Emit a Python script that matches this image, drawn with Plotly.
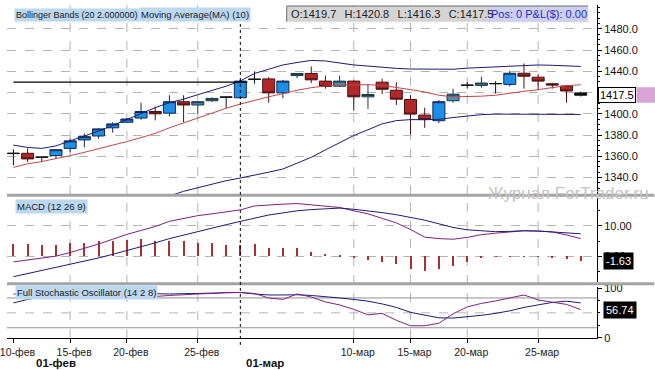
import plotly.graph_objects as go

# ---------------- DATA ----------------
DATES = ["2011-02-10","2011-02-11","2011-02-13","2011-02-14","2011-02-15","2011-02-16","2011-02-17","2011-02-18",
         "2011-02-20","2011-02-21","2011-02-22","2011-02-23","2011-02-24","2011-02-25","2011-02-27","2011-02-28",
         "2011-03-01","2011-03-02","2011-03-03","2011-03-04","2011-03-06","2011-03-07","2011-03-08","2011-03-09",
         "2011-03-10","2011-03-11","2011-03-13","2011-03-14","2011-03-15","2011-03-16","2011-03-17","2011-03-18",
         "2011-03-20","2011-03-21","2011-03-22","2011-03-23","2011-03-24","2011-03-25","2011-03-27","2011-03-28",
         "2011-03-29"]

OPEN  = [1362.5,1362.8,1359.0,1360.6,1367.4,1375.4,1379.1,1386.8,1392.0,1396.0,1402.2,1400.6,1411.4,1408.3,1412.3,1415.6,
         1415.1,1432.4,1432.9,1419.7,1436.0,1438.0,1430.8,1426.0,1430.8,1416.0,1429.8,1422.2,1413.5,1398.8,1393.5,1412.3,
         1426.8,1426.8,1428.3,1427.7,1438.2,1434.5,1428.3,1426.2,1419.7]
HIGH  = [1366.5,1367.4,1360.0,1366.8,1376.6,1381.5,1386.4,1392.0,1396.0,1410.5,1406.8,1417.5,1417.5,1412.0,1415.5,1416.3,
         1432.5,1440.0,1434.5,1432.0,1438.2,1444.6,1436.0,1436.0,1431.5,1427.7,1433.0,1429.8,1417.5,1405.8,1413.0,1423.7,
         1429.8,1435.0,1430.8,1440.6,1447.4,1437.5,1429.0,1427.0,1420.8]
LOW   = [1351.5,1354.5,1354.5,1357.5,1363.7,1368.3,1376.6,1382.2,1391.5,1394.5,1393.8,1397.5,1392.0,1400.0,1411.0,1405.5,
         1414.0,1428.3,1410.5,1414.5,1433.5,1428.9,1423.7,1425.2,1402.8,1404.6,1418.5,1408.3,1380.6,1386.8,1391.4,1410.5,
         1423.7,1424.6,1419.1,1425.8,1423.7,1422.2,1423.7,1410.5,1416.3]
CLOSE = [1362.8,1357.5,1359.2,1366.2,1374.5,1378.5,1385.8,1390.5,1395.1,1402.2,1400.0,1411.4,1408.3,1411.4,1414.5,1415.8,
         1430.8,1432.6,1419.7,1430.8,1438.0,1432.0,1425.8,1430.8,1416.0,1418.2,1423.1,1413.8,1399.7,1394.5,1411.4,1418.5,
         1427.0,1429.0,1428.5,1438.2,1435.4,1430.8,1427.1,1421.5,1417.5]

BB_UPPER = [1370.5,1368.3,1367.4,1369.8,1374.5,1379.0,1383.7,1389.0,1394.5,1400.3,1405.8,1410.5,1413.8,1418.0,1422.0,1426.0,
            1431.0,1438.0,1442.0,1446.0,1448.3,1450.3,1449.8,1448.0,1446.0,1445.0,1443.7,1442.8,1442.2,1442.0,1442.0,1442.0,
            1443.0,1443.7,1444.3,1445.2,1446.0,1446.0,1445.7,1445.4,1444.6]
BB_LOWER = [None,None,None,None,None,None,None,None,None,None,1319.0,1322.5,1327.0,1330.5,1334.0,1337.0,
            1339.5,1342.0,1345.0,1348.0,1353.5,1359.0,1366.0,1373.0,1379.5,1385.0,1390.5,1393.6,1394.5,1394.5,1394.8,1396.5,
            1398.0,1399.2,1399.7,1399.7,1399.5,1399.4,1399.4,1399.4,1399.4]
MA10 = [1349.5,1352.9,1355.0,1357.5,1360.6,1363.7,1366.8,1370.5,1373.8,1377.5,1381.5,1386.8,1391.4,1396.6,1400.6,1405.2,
        1409.2,1412.9,1416.0,1419.0,1422.2,1424.6,1426.2,1427.0,1427.4,1427.4,1426.8,1425.0,1422.8,1420.6,1417.5,1416.0,
        1416.0,1416.6,1417.5,1419.0,1421.2,1422.8,1424.6,1426.5,1427.4]

MACD = [-1.9,-1.3,-0.6,0.0,1.2,2.5,4.0,5.6,7.2,8.5,9.8,11.5,12.4,13.4,14.0,14.7,
        15.3,16.6,17.0,17.2,17.4,17.0,16.5,16.1,15.0,14.0,12.5,11.0,8.8,6.3,5.8,5.6,
        6.2,7.1,7.6,8.1,8.4,8.3,8.0,7.0,5.8]
SIGNAL = [-6.8,-5.8,-4.8,-3.8,-2.8,-1.8,-0.6,0.6,1.8,3.0,4.4,5.8,7.0,8.2,9.3,10.4,
          11.5,12.5,13.6,14.3,15.0,15.4,15.7,15.9,15.5,15.0,14.4,13.7,12.8,11.9,10.7,9.5,
          8.7,8.4,8.1,8.2,8.4,8.3,8.0,7.7,7.4]
MACD_HIST = [4.0,4.0,3.8,3.8,4.3,4.3,4.9,5.1,5.4,5.7,5.1,4.9,4.9,4.3,4.3,3.6,
             3.8,4.0,2.7,2.5,2.5,1.4,0.8,0.2,-0.5,-1.2,-2.0,-2.6,-4.2,-4.9,-4.2,-3.3,
             -2.0,-0.7,-0.3,-0.2,-0.1,-0.2,-0.4,-1.0,-1.63]

STOCH_K = [88,86,85,88,92,93,94,95,95,94,83,85,87,88,89,91,
           91,89,80,77,88,82,72,66,57,46,49,35,24,24,29,48,
           62,69,74,80,86,76,72,67,56.74]
STOCH_D = [70,77,82,85,87,88,89,90,90,89,88,88,88.5,89,90.5,91,
           91,88,86,86,86.5,85,83,80,77,73.5,68,61,51,45,40,39.5,
           42,45,49,54,61,66,71,73.5,70]

TICK_DATES = ["2011-02-10","2011-02-15","2011-02-20","2011-02-25","2011-03-10","2011-03-15","2011-03-20","2011-03-25"]
TICK_TEXT  = ["10-фев","15-фев","20-фев","25-фев","10-мар","15-мар","20-мар","25-мар"]
GRID_DATES = ["2011-02-15","2011-02-20","2011-02-25","2011-03-10","2011-03-15","2011-03-20","2011-03-25"]
PRICE_TICKS = [1340, 1360, 1380, 1400, 1420, 1440, 1460, 1480]
CURSOR_DATE = "2011-03-01"
MONTH_LABELS = ["01-фев", "01-мар"]
LEVEL_PRICE = 1429.8
LEVEL_FROM, LEVEL_TO = "2011-02-10", "2011-03-02"

# ---------------- STYLE ----------------
CANDLE_STYLE = ["k","r","k","b","b","b","b","b","b","b","r","b","r","t","t","k",
                "b","k","r","b","t","r","r","t","r","t","r","r","r","r","b","t",
                "k","t","k","b","r","r","r","r","k"]
FILL = {"b": "#1e8fe8", "r": "#b0282a", "t": "#4a90b0", "k": "#111111"}
EDGE = {"b": "#142850", "r": "#4a1010", "t": "#1e3848", "k": "#111111"}
FONT = "Arial, Liberation Sans, sans-serif"
GRID = "#b4b4b4"
NAVY = "#1c1c72"
PURPLE = "#80207e"
REDLINE = "#c04848"

W, H = 655, 370
PLOT_R = 597          # right edge of plot area (px)
PLOT_B = 338          # bottom (x-axis line) px


def px(v):
    return v / PLOT_R


def py(v):
    return (PLOT_B - v) / PLOT_B


n = len(DATES)
X = list(range(n))
xpos = {d: i for i, d in enumerate(DATES)}
XR = [-0.453, 41.15]

fig = go.Figure()

for key in ["b", "r", "t", "k"]:
    idx = [i for i in X if CANDLE_STYLE[i] == key]
    fig.add_trace(go.Candlestick(
        x=idx, open=[OPEN[i] for i in idx], high=[HIGH[i] for i in idx],
        low=[LOW[i] for i in idx], close=[CLOSE[i] for i in idx],
        increasing=dict(fillcolor=FILL[key], line=dict(color=EDGE[key], width=1)),
        decreasing=dict(fillcolor=FILL[key], line=dict(color=EDGE[key], width=1)),
        whiskerwidth=0, xaxis="x", yaxis="y", showlegend=False, hoverinfo="skip"))

fig.add_trace(go.Scatter(x=X, y=BB_UPPER, mode="lines", line=dict(color=NAVY, width=1),
                         xaxis="x", yaxis="y", showlegend=False))
fig.add_trace(go.Scatter(x=X, y=BB_LOWER, mode="lines", line=dict(color=NAVY, width=1),
                         xaxis="x", yaxis="y", showlegend=False))
fig.add_trace(go.Scatter(x=X, y=MA10, mode="lines", line=dict(color=REDLINE, width=1),
                         xaxis="x", yaxis="y", showlegend=False))

fig.add_trace(go.Bar(x=X, y=MACD_HIST, width=0.07, marker=dict(color="#a83030", line=dict(width=0)),
                     xaxis="x2", yaxis="y2", showlegend=False))
fig.add_trace(go.Scatter(x=X, y=MACD, mode="lines", line=dict(color=PURPLE, width=1),
                         xaxis="x2", yaxis="y2", showlegend=False))
fig.add_trace(go.Scatter(x=X, y=SIGNAL, mode="lines", line=dict(color=NAVY, width=1),
                         xaxis="x2", yaxis="y2", showlegend=False))

fig.add_trace(go.Scatter(x=X, y=STOCH_D, mode="lines", line=dict(color=NAVY, width=1),
                         xaxis="x3", yaxis="y3", showlegend=False))
fig.add_trace(go.Scatter(x=X, y=STOCH_K, mode="lines", line=dict(color=PURPLE, width=1),
                         xaxis="x3", yaxis="y3", showlegend=False))

tickfont = dict(family=FONT, size=11, color="#111")
common_x = dict(range=XR, showgrid=False, zeroline=False, type="linear", fixedrange=True)
yax_common = dict(side="right", showline=True, linecolor="black", linewidth=1, ticks="outside",
                  ticklen=4, tickcolor="black", zeroline=False, tickfont=tickfont,
                  gridcolor=GRID, griddash="dash", gridwidth=1, fixedrange=True)

shapes = []
for d in GRID_DATES:
    shapes.append(dict(type="line", xref="x3", yref="paper", x0=xpos[d], x1=xpos[d], y0=0, y1=1,
                       line=dict(color=GRID, width=1, dash="dash"), layer="below"))
for lv, ds in [(80, "solid"), (20, "solid"), (50, "dash")]:
    shapes.append(dict(type="line", xref="x3 domain", yref="y3", x0=0, x1=1, y0=lv, y1=lv,
                       line=dict(color="#909090" if ds == "solid" else GRID, width=1, dash=ds), layer="below"))
shapes.append(dict(type="line", xref="x", yref="y", x0=xpos[LEVEL_FROM], x1=xpos[LEVEL_TO] - 0.5,
                   y0=LEVEL_PRICE, y1=LEVEL_PRICE, line=dict(color="black", width=1.2)))
for yy in [193, 283]:
    shapes.append(dict(type="line", xref="paper", yref="paper", x0=0, x1=W / PLOT_R, y0=py(yy), y1=py(yy),
                       line=dict(color="#a4a4a4", width=3)))
shapes.append(dict(type="line", xref="x3", yref="paper", x0=xpos[CURSOR_DATE], x1=xpos[CURSOR_DATE],
                   y0=py(345), y1=py(18), line=dict(color="black", width=1, dash="dot")))
shapes.append(dict(type="rect", xref="paper", yref="paper", x0=px(283), x1=px(588), y0=py(17), y1=py(1),
                   fillcolor="#d4d4d4", line=dict(width=0)))
shapes.append(dict(type="rect", xref="paper", yref="paper", x0=px(486), x1=px(588), y0=py(17), y1=py(1),
                   fillcolor="#ccd0ec", line=dict(width=0)))
shapes.append(dict(type="line", xref="paper", yref="paper", x0=px(283), x1=px(588), y0=py(1), y1=py(1),
                   line=dict(color="#707070", width=1)))
shapes.append(dict(type="line", xref="paper", yref="paper", x0=px(283), x1=px(283), y0=py(1), y1=py(17),
                   line=dict(color="#707070", width=1)))
shapes.append(dict(type="rect", xref="paper", yref="y", x0=px(637), x1=px(656), y0=CLOSE[-1] - 7.2,
                   y1=CLOSE[-1] + 7.6, fillcolor="#d8a4d6", line=dict(width=0)))

ann = []
LABEL_BG = "#bcd7f0"


def label(text, x, y, size):
    return dict(text=text, xref="paper", yref="paper", x=px(x), y=py(y), xanchor="left", yanchor="middle",
                showarrow=False, font=dict(family=FONT, size=size, color="#1a1a1a"), bgcolor=LABEL_BG, borderpad=1)


ann.append(label("Bollinger Bands (20 2.000000)", 7, 10, 9))
ann.append(label("Moving Average(MA) (10)", 134, 10, 9.5))
ann.append(label("MACD (12 26 9)", 8, 204.5, 9.5))
ann.append(label("Full Stochastic Oscillator (14 2 8)", 8, 291.5, 9.5))

gap = "\u00a0\u00a0\u2009"
hdr = f"O:{OPEN[-1]:.1f}{gap}H:{HIGH[-1]:.1f}{gap}L:{LOW[-1]:.1f}{gap}C:{CLOSE[-1]:.1f}"
ann.append(dict(text=hdr, xref="paper", yref="paper", x=px(285), y=py(9.5), xanchor="left", yanchor="middle",
                showarrow=False, font=dict(family=FONT, size=11, color="#222")))
ann.append(dict(text="Pos: 0 P&L($): 0.00", xref="paper", yref="paper", x=px(488), y=py(9.5), xanchor="left",
                yanchor="middle", showarrow=False, font=dict(family=FONT, size=11, color="#2a2ad0")))
ann.append(dict(text=f"{CLOSE[-1]:.1f}", xref="paper", yref="y", x=px(598), y=CLOSE[-1], xanchor="left",
                yanchor="middle", showarrow=False, font=dict(family=FONT, size=11, color="black"),
                bgcolor="white", bordercolor="black", borderwidth=1, borderpad=1))
ann.append(dict(text=f"{MACD_HIST[-1]:.2f}", xref="paper", yref="y2", x=px(603), y=MACD_HIST[-1], xanchor="left",
                yanchor="middle", showarrow=False, font=dict(family=FONT, size=11, color="white"),
                bgcolor="black", borderpad=2))
ann.append(dict(text=f"{STOCH_K[-1]:.2f}", xref="paper", yref="y3", x=px(603), y=STOCH_K[-1], xanchor="left",
                yanchor="middle", showarrow=False, font=dict(family=FONT, size=11, color="white"),
                bgcolor="black", borderpad=2))
ann.append(dict(text=f"<b>{MONTH_LABELS[0]}</b>", xref="paper", yref="paper", x=px(27), y=py(363),
                xanchor="left", yanchor="middle", showarrow=False, font=dict(family=FONT, size=11.5, color="#111")))
ann.append(dict(text=f"<b>{MONTH_LABELS[1]}</b>", xref="paper", yref="paper", x=px(240), y=py(363),
                xanchor="left", yanchor="middle", showarrow=False, font=dict(family=FONT, size=11.5, color="#111")))
ann.append(dict(text="Журнал ForTrader.ru", xref="paper", yref="paper", x=px(652), y=py(191),
                xanchor="right", yanchor="middle", showarrow=False,
                font=dict(family=FONT, size=17, color="#c4c4c4")))

fig.update_layout(
    width=W, height=H, margin=dict(l=0, r=W - PLOT_R, t=0, b=H - PLOT_B, pad=0),
    paper_bgcolor="white", plot_bgcolor="white", showlegend=False,
    boxgap=0.08, boxgroupgap=0.08, bargap=0,
    xaxis=dict(**common_x, domain=[0, 1], anchor="y", showticklabels=False, rangeslider=dict(visible=False)),
    xaxis2=dict(**common_x, domain=[0, 1], anchor="y2", showticklabels=False),
    xaxis3=dict(**common_x, domain=[0, 1], anchor="y3", showline=True, linecolor="black", linewidth=1,
                ticks="outside", ticklen=4, tickcolor="black",
                tickvals=[xpos[d] for d in TICK_DATES], ticktext=TICK_TEXT,
                ticklabeloverflow="allow", ticklabelshift=4,
                tickfont=dict(family=FONT, size=10.5, color="#222")),
    yaxis=dict(**yax_common, domain=[py(192), 1], range=[1324.3, 1502.5],
               tickvals=PRICE_TICKS,
               ticktext=["" if v == 1420 else f"{v:.1f}" for v in PRICE_TICKS], showgrid=True,
               minor=dict(dtick=5, ticklen=2, ticks="outside", tickcolor="black"), anchor="x"),
    yaxis2=dict(**yax_common, domain=[py(281), py(196)], range=[-8.5, 19.2],
                tickvals=[0, 10], ticktext=["0.00", "10.00"], showgrid=True,
                minor=dict(dtick=5, ticklen=2, ticks="outside", tickcolor="black"), anchor="x2"),
    yaxis3=dict(**yax_common, domain=[0, py(286)], range=[-0.6, 102.5],
                tickvals=[0, 100], ticktext=["0", "100"], showgrid=False,
                minor=dict(dtick=25, ticklen=2, ticks="outside", tickcolor="black"), anchor="x3"),
    shapes=shapes, annotations=ann,
)

fig.write_html("out.html", config={"displayModeBar": False},
               post_script="document.body.style.margin='0px';document.body.style.overflow='hidden';")
